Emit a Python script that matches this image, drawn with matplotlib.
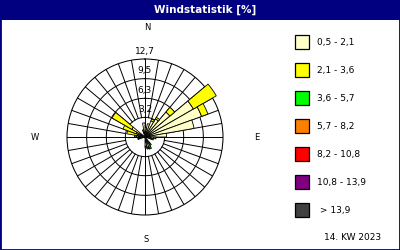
import numpy as np
import matplotlib
matplotlib.use("Agg")
import matplotlib.pyplot as plt
from matplotlib.patches import Rectangle

# --- Daten ---
title = "Windstatistik [%]"
week_label = "14. KW 2023"
classes = ["0,5 - 2,1", "2,1 - 3,6", "3,6 - 5,7", "5,7 - 8,2", "8,2 - 10,8", "10,8 - 13,9", " > 13,9"]
class_colors = ["#FFFFC8", "#FFFF00", "#00FF00", "#FF8000", "#FF0000", "#800080", "#404040"]
ring_values = [3.2, 6.3, 9.5, 12.7]
ring_labels = ["3,2", "6,3", "9,5", "12,7"]

# Sektormitten (Grad) und Anteile je Klasse [%]
directions = [5, 15, 25, 35, 45, 55, 65, 75, 85, 95, 105, 145, 155, 165, 175, 255, 275, 285, 295, 305, 345, 355]
light = [1.6, 2.2, 2.8, 3.4, 5.3, 9.1, 9.8, 8.1, 3.5, 1.4, 1.0, 1.2, 1.8, 1.7, 1.5, 0.8, 1.0, 1.2, 1.5, 2.5, 1.2, 2.3]
yellow = [0.0, 0.0, 0.3, 0.3, 1.0, 4.3, 1.1, 0.0, 0.0, 0.0, 0.0, 0.0, 0.0, 0.0, 0.0, 0.0, 0.4, 1.8, 2.3, 3.7, 0.0, 0.0]
green = [0.0, 0.0, 0.0, 0.0, 0.0, 0.0, 0.0, 0.0, 0.0, 0.4, 0.4, 0.4, 0.3, 0.3, 0.3, 0.4, 0.3, 0.0, 0.0, 0.0, 0.0, 0.0]

W, H = 400, 250
fig = plt.figure(figsize=(W / 100, H / 100), dpi=100)
fig.patch.set_facecolor("white")

# Titelleiste + Rahmen
fig.patches.append(Rectangle((0, 1 - 20 / H), 1, 20 / H, transform=fig.transFigure,
                             facecolor="#000080", edgecolor="none", zorder=0))
fig.patches.append(Rectangle((0, 0), 1, 1, transform=fig.transFigure,
                             facecolor="none", edgecolor="#000080", linewidth=2, zorder=5))
fig.text(205 / W, 1 - 10 / H, title, color="white", fontsize=7.5, fontweight="bold",
         ha="center", va="center")

# Polardiagramm
cx, cy, R = 145, 137, 78
ax = fig.add_axes([(cx - R) / W, (H - cy - R) / H, 2 * R / W, 2 * R / H], projection="polar")
ax.set_theta_zero_location("N")
ax.set_theta_direction(-1)
ax.set_ylim(0, 12.7)
ax.grid(False)
ax.set_xticks([])
ax.set_yticks([])
ax.spines["polar"].set_linewidth(0.75)
ax.set_facecolor("none")

tt = np.linspace(0, 2 * np.pi, 361)
for v in ring_values[:-1]:
    ax.plot(tt, np.full_like(tt, v), color="black", lw=0.7, zorder=1)
for d in range(0, 360, 10):
    t = np.radians(d)
    r0 = 0 if d % 90 == 0 else ring_values[0]
    ax.plot([t, t], [r0, 12.7], color="black", lw=0.7, zorder=1)

theta = np.radians(directions)
width = np.radians(10)
bottom = np.zeros(len(directions))
for vals, col in zip([light, yellow, green], class_colors[:3]):
    vals = np.array(vals)
    m = vals > 0
    bars = ax.bar(theta[m], vals[m], width=width, bottom=bottom[m], color=col,
                  edgecolor="black", linewidth=0.6, zorder=3)
    for b in bars:
        b.set_clip_on(False)
    bottom = bottom + vals

for v, lbl in zip(ring_values, ring_labels):
    ax.annotate(lbl, xy=(0, v), xytext=(0, 2.5), textcoords="offset points",
                ha="center", va="bottom", fontsize=6.5, zorder=4, annotation_clip=False)

# Himmelsrichtungen
fig.text(147 / W, 1 - 27 / H, "N", fontsize=6, ha="center", va="center")
fig.text(257 / W, 1 - 137 / H, "E", fontsize=6, ha="center", va="center")
fig.text(35 / W, 1 - 137 / H, "W", fontsize=6, ha="center", va="center")
fig.text(146 / W, 1 - 240 / H, "S", fontsize=6, ha="center", va="center")

# Legende
for i, (lbl, col) in enumerate(zip(classes, class_colors)):
    y = 42 + i * 28
    fig.patches.append(Rectangle((295 / W, 1 - (y + 7) / H), 14 / W, 14 / H,
                                 transform=fig.transFigure, facecolor=col,
                                 edgecolor="black", linewidth=0.9, zorder=3))
    fig.text(317 / W, 1 - y / H, lbl, fontsize=6.5, ha="left", va="center")

fig.text(381 / W, 1 - 238 / H, week_label, fontsize=6.5, ha="right", va="center")

fig.savefig("out.png", dpi=100)
